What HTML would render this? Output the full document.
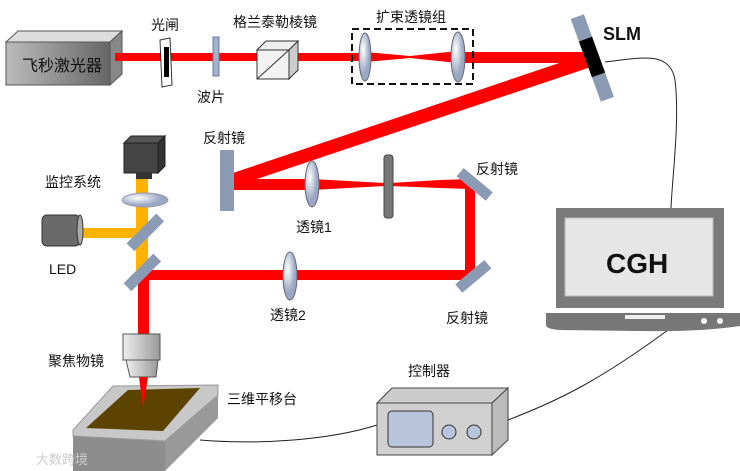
<!DOCTYPE html>
<html><head><meta charset="utf-8"><style>body{margin:0;background:#fff}svg{display:block}text{font-family:"Liberation Sans","Noto Sans CJK SC",sans-serif;font-size:14px;fill:#111}</style></head><body>
<svg width="740" height="471" viewBox="0 0 740 471">
<defs>
<linearGradient id="lg" x1="0" x2="1"><stop offset="0" stop-color="#bbb"/><stop offset="1" stop-color="#666"/></linearGradient>
<linearGradient id="ob" x1="0" x2="1"><stop offset="0" stop-color="#eee"/><stop offset="1" stop-color="#999"/></linearGradient>
<radialGradient id="le" cx=".35" cy=".35"><stop offset="0" stop-color="#fff"/><stop offset="1" stop-color="#9aa8c4"/></radialGradient>
</defs>
<path d="M605,62 C640,58 670,50 675,80 C680,120 672,180 671,208" fill="none" stroke="#222" stroke-width="1"/>
<path d="M508,420 C560,400 600,380 668,330" fill="none" stroke="#222" stroke-width="1"/>
<path d="M200,440 C260,445 330,440 377,425" fill="none" stroke="#222" stroke-width="1"/>
<polygon points="6,42 18,31 122,31 110,42" fill="#ddd" stroke="#555"/>
<polygon points="110,42 122,31 122,74 110,85" fill="#888" stroke="#555"/>
<rect x="6" y="42" width="104" height="43" fill="url(#lg)" stroke="#555"/>
<text x="22" y="71" style="font-size:16px">飞秒激光器</text>
<rect x="115" y="53" width="245" height="8" fill="#f00"/>
<polygon points="365,52 410,56 458,51 458,63 410,58 365,62" fill="#f00"/>
<rect x="458" y="52" width="132" height="11" fill="#f00"/>
<polygon points="586,54 594,66 236,186 230,174" fill="#f00"/>
<polygon points="160,40 170,38 172,85 162,87" fill="#fff" stroke="#333"/>
<rect x="164" y="47" width="5" height="30" fill="#000"/>
<rect x="213" y="37" width="6" height="39" fill="#9fb1cc" stroke="#6a7fa0"/>
<polygon points="257,50 266,41 298,41 289,50" fill="#eee" stroke="#333"/>
<polygon points="289,50 298,41 298,70 289,79" fill="#ccc" stroke="#333"/>
<rect x="257" y="50" width="32" height="29" fill="#f2f2f2" stroke="#333"/>
<line x1="257" y1="79" x2="289" y2="50" stroke="#333"/>
<rect x="352" y="29" width="121" height="55" fill="none" stroke="#111" stroke-width="2" stroke-dasharray="7,4"/>
<ellipse cx="365" cy="57" rx="6" ry="24" fill="url(#le)" stroke="#667"/>
<ellipse cx="458" cy="57" rx="7" ry="25" fill="url(#le)" stroke="#667"/>
<g transform="rotate(-20 592 57)"><rect x="585" y="14" width="14" height="88" fill="#8a9bb3"/><rect x="585" y="38" width="14" height="38" fill="#000"/></g>
<text x="603" y="40" style="font-size:18px;font-weight:bold">SLM</text>
<rect x="220" y="150" width="14" height="61" fill="#8a9bb3"/>
<rect x="234" y="179" width="76" height="11" fill="#f00"/>
<polygon points="312,179 385,183 385,186 312,190" fill="#f00"/>
<polygon points="390,183 440,180 470,179 470,189 440,188 390,186" fill="#f00"/>
<ellipse cx="312" cy="184" rx="7" ry="23" fill="url(#le)" stroke="#667"/>
<rect x="384" y="155" width="9" height="63" rx="3" fill="#777" stroke="#444"/>
<rect x="465" y="179" width="10" height="100" fill="#f00"/>
<rect x="143" y="270" width="332" height="10" fill="#f00"/>
<g transform="rotate(40 475 184)"><rect x="456" y="179" width="38" height="11" fill="#8a9bb3"/></g>
<g transform="rotate(-40 473 276)"><rect x="454" y="271" width="38" height="11" fill="#8a9bb3"/></g>
<ellipse cx="290" cy="276" rx="7" ry="24" fill="url(#le)" stroke="#667"/>
<rect x="136" y="178" width="12" height="100" fill="#ffb300"/>
<rect x="80" y="228" width="62" height="10" fill="#ffb300"/>
<rect x="138" y="275" width="11" height="60" fill="#f00"/>
<g transform="rotate(-45 145 232)"><rect x="124" y="227" width="42" height="11" fill="#8a9bb3"/></g>
<g transform="rotate(-45 142 272)"><rect x="121" y="267" width="42" height="11" fill="#8a9bb3"/></g>
<ellipse cx="145" cy="200" rx="23" ry="7" fill="url(#le)" stroke="#99a"/>
<polygon points="124,143 131,136 165,136 158,143" fill="#555" stroke="#222"/>
<polygon points="158,143 165,136 165,166 158,173" fill="#333" stroke="#222"/>
<rect x="124" y="143" width="34" height="30" fill="#444" stroke="#222"/>
<rect x="136" y="173" width="16" height="6" fill="#333"/>
<rect x="42" y="215" width="38" height="31" rx="5" fill="#6a6a6a" stroke="#333"/>
<ellipse cx="80" cy="230" rx="3" ry="15" fill="#aaa" stroke="#333"/>
<rect x="123" y="334" width="37" height="26" fill="url(#ob)" stroke="#555"/>
<polygon points="126,360 158,360 156,377 130,377" fill="url(#ob)" stroke="#555"/>
<polygon points="73,436 165,441 165,471 73,471" fill="#8d8d8d"/>
<polygon points="165,441 218,395 218,418 165,471" fill="#999"/>
<polygon points="73,430 113,386 218,385 218,395 165,441 73,436" fill="#c8c8c8" stroke="#999"/>
<polygon points="128,390 200,388 163,431 86,428" fill="#5c4300"/>
<polygon points="139,377 148,377 143,408" fill="#f00"/>
<rect x="556" y="208" width="168" height="100" fill="#7a7a7a"/>
<rect x="565" y="218" width="148" height="78" fill="#e6e6e6" stroke="#bbb"/>
<text x="606" y="273" style="font-size:28px;font-weight:bold">CGH</text>
<path d="M546,313 L740,313 L740,326 Q700,332 640,331 L560,330 Q546,329 546,325 Z" fill="#777"/>
<rect x="625" y="315" width="40" height="4" fill="#eee"/>
<circle cx="704" cy="321" r="3" fill="#fff"/><circle cx="720" cy="321" r="3" fill="#fff"/>
<polygon points="377,403 392,388 508,388 492,403" fill="#ccc" stroke="#444"/>
<polygon points="492,403 508,388 508,440 492,455" fill="#bbb" stroke="#444"/>
<rect x="377" y="403" width="115" height="52" fill="#d0d0d0" stroke="#444"/>
<rect x="388" y="411" width="45" height="36" rx="4" fill="#b7c4dc" stroke="#333"/>
<circle cx="449" cy="432" r="7" fill="#b7c4dc" stroke="#333"/><circle cx="474" cy="432" r="7" fill="#b7c4dc" stroke="#333"/>
<text x="151" y="30">光闸</text>
<text x="233" y="27">格兰泰勒棱镜</text>
<text x="376" y="22">扩束透镜组</text>
<text x="197" y="102">波片</text>
<text x="203" y="143">反射镜</text>
<text x="45" y="187">监控系统</text>
<text x="296" y="232">透镜1</text>
<text x="476" y="174">反射镜</text>
<text x="49" y="274">LED</text>
<text x="270" y="320">透镜2</text>
<text x="446" y="323">反射镜</text>
<text x="48" y="366">聚焦物镜</text>
<text x="227" y="404">三维平移台</text>
<text x="408" y="376">控制器</text>
<text x="36" y="464" style="fill:#ccc;font-size:13px">大数跨境</text>
</svg>
</body></html>
